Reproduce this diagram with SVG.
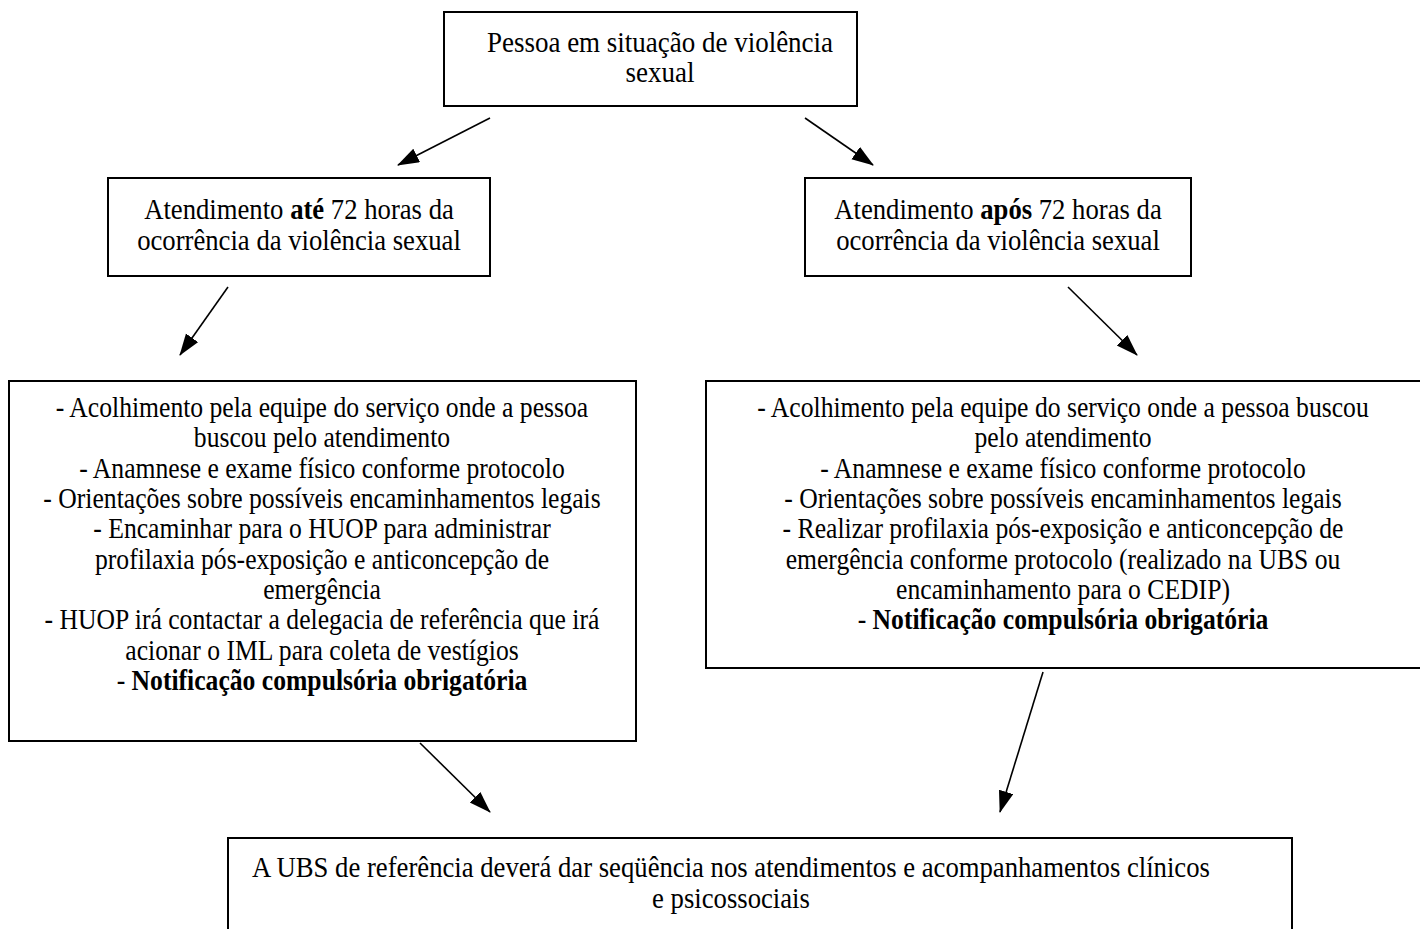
<svg xmlns="http://www.w3.org/2000/svg" width="1420" height="929" viewBox="0 0 1420 929">
<style>
.box{fill:#fff;stroke:#000;stroke-width:2}
text{font-family:"Liberation Serif","Times New Roman",serif;font-size:30px;fill:#000;text-anchor:middle}
.b{font-weight:bold}
.c line{stroke:#000;stroke-width:1.6}
</style>
<defs>
<marker id="ah" markerUnits="userSpaceOnUse" markerWidth="24" markerHeight="16" refX="21" refY="7.5" orient="auto">
<path d="M0,0 L22,7.5 L0,15 z" fill="#000"/>
</marker>
</defs>
<rect width="1420" height="929" fill="#fff"/>
<g class="c">
<line x1="490" y1="118" x2="398" y2="165" marker-end="url(#ah)"/>
<line x1="805" y1="118" x2="873" y2="165" marker-end="url(#ah)"/>
<line x1="228" y1="287" x2="180" y2="355" marker-end="url(#ah)"/>
<line x1="1068" y1="287" x2="1137" y2="355" marker-end="url(#ah)"/>
<line x1="420" y1="743" x2="490" y2="812" marker-end="url(#ah)"/>
<line x1="1043" y1="672" x2="1000" y2="812" marker-end="url(#ah)"/>
</g>
<g id="n1">
<rect class="box" x="444" y="12" width="413" height="94"/>
<g transform="translate(660,0) scale(0.9,1)">
<text x="0" y="52">Pessoa em situação de violência</text>
<text x="0" y="82">sexual</text>
</g>
</g>
<g id="n2">
<rect class="box" x="108" y="178" width="382" height="98"/>
<g transform="translate(299,0) scale(0.89,1)">
<text x="0" y="219">Atendimento <tspan class="b">até</tspan> 72 horas da</text>
<text x="0" y="250">ocorrência da violência sexual</text>
</g>
</g>
<g id="n3">
<rect class="box" x="805" y="178" width="386" height="98"/>
<g transform="translate(998,0) scale(0.89,1)">
<text x="0" y="219">Atendimento <tspan class="b">após</tspan> 72 horas da</text>
<text x="0" y="250">ocorrência da violência sexual</text>
</g>
</g>
<g id="n4">
<rect class="box" x="9" y="381" width="627" height="360"/>
<g transform="translate(322,0) scale(0.855,1)">
<text x="0" y="417">- Acolhimento pela equipe do serviço onde a pessoa</text>
<text x="0" y="447">buscou pelo atendimento</text>
<text x="0" y="478">- Anamnese e exame físico conforme protocolo</text>
<text x="0" y="508">- Orientações sobre possíveis encaminhamentos legais</text>
<text x="0" y="538">- Encaminhar para o HUOP para administrar</text>
<text x="0" y="569">profilaxia pós-exposição e anticoncepção de</text>
<text x="0" y="599">emergência</text>
<text x="0" y="629">- HUOP irá contactar a delegacia de referência que irá</text>
<text x="0" y="660">acionar o IML para coleta de vestígios</text>
<text x="0" y="690">- <tspan class="b">Notificação compulsória obrigatória</tspan></text>
</g>
</g>
<g id="n5">
<rect class="box" x="706" y="381" width="716" height="287"/>
<g transform="translate(1063,0) scale(0.855,1)">
<text x="0" y="417">- Acolhimento pela equipe do serviço onde a pessoa buscou</text>
<text x="0" y="447">pelo atendimento</text>
<text x="0" y="478">- Anamnese e exame físico conforme protocolo</text>
<text x="0" y="508">- Orientações sobre possíveis encaminhamentos legais</text>
<text x="0" y="538">- Realizar profilaxia pós-exposição e anticoncepção de</text>
<text x="0" y="569">emergência conforme protocolo (realizado na UBS ou</text>
<text x="0" y="599">encaminhamento para o CEDIP)</text>
<text x="0" y="629">- <tspan class="b">Notificação compulsória obrigatória</tspan></text>
</g>
</g>
<g id="n6">
<rect class="box" x="228" y="838" width="1064" height="110"/>
<g transform="translate(731,0) scale(0.89,1)">
<text x="0" y="877">A UBS de referência deverá dar seqüência nos atendimentos e acompanhamentos clínicos</text>
<text x="0" y="908">e psicossociais</text>
</g>
</g>
</svg>
